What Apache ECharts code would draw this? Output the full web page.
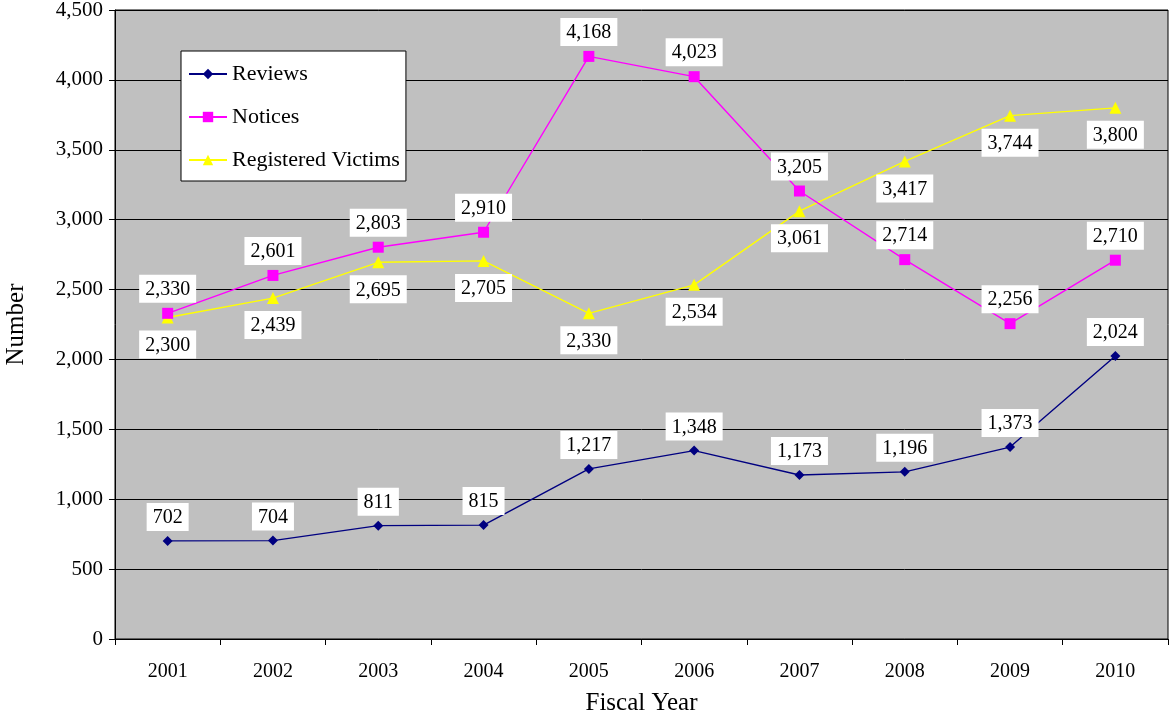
<!DOCTYPE html>
<html>
<head>
<meta charset="utf-8">
<script src="https://cdn.jsdelivr.net/npm/echarts@6/dist/echarts.min.js"></script>
<style>
  html, body { margin: 0; padding: 0; background: #fff; }
  #main { width: 1170px; height: 719px; }
</style>
</head>
<body>
<div id="main"></div>
<script>
// data
const years = ["2001", "2002", "2003", "2004", "2005", "2006", "2007", "2008", "2009", "2010"];
const reviews = [702, 704, 811, 815, 1217, 1348, 1173, 1196, 1373, 2024];
const notices = [2330, 2601, 2803, 2910, 4168, 4023, 3205, 2714, 2256, 2710];
const victims = [2300, 2439, 2695, 2705, 2330, 2534, 3061, 3417, 3744, 3800];

const font = "'Liberation Serif', 'DejaVu Serif', serif";

function fmt(p) {
  return p.value.toLocaleString("en-US");
}

const labelBox = {
  show: true,
  formatter: fmt,
  backgroundColor: "#fff",
  padding: [5, 6, 3, 6],
  color: "#000",
  fontFamily: font,
  fontSize: 20,
  distance: 5
};

let myChart = echarts.init(document.getElementById("main"));
myChart.setOption({
  animation: false,
  textStyle: { fontFamily: font },
  grid: {
    left: 115, right: 2, top: 10, bottom: 80,
    outerBoundsMode: "none",
    containLabel: false,
    show: true,
    backgroundColor: "#c0c0c0",
    borderColor: "#000",
    borderWidth: 1
  },
  legend: {
    orient: "vertical",
    left: 181,
    top: 51,
    backgroundColor: "#fff",
    borderColor: "#000",
    borderWidth: 1,
    padding: [12, 6, 10, 7],
    itemGap: 21,
    itemWidth: 38,
    itemHeight: 13,
    itemStyle: { borderWidth: 0 },
    textStyle: { fontFamily: font, fontSize: 22, color: "#000" },
    data: ["Reviews", "Notices", "Registered Victims"]
  },
  xAxis: {
    type: "category",
    data: years,
    boundaryGap: true,
    name: "Fiscal Year",
    nameLocation: "middle",
    nameGap: 52,
    nameTextStyle: { fontFamily: font, fontSize: 25, color: "#000" },
    axisLine: { lineStyle: { color: "#000", width: 1 } },
    axisTick: { show: true, length: 6, lineStyle: { color: "#000" } },
    axisLabel: { color: "#000", fontFamily: font, fontSize: 20, margin: 23 }
  },
  yAxis: {
    type: "value",
    min: 0,
    max: 4500,
    interval: 500,
    name: "Number",
    nameLocation: "middle",
    nameGap: 86,
    nameTextStyle: { fontFamily: font, fontSize: 25, color: "#000" },
    axisLine: { show: true, lineStyle: { color: "#000", width: 1 } },
    axisTick: { show: true, length: 6, lineStyle: { color: "#000" } },
    axisLabel: {
      color: "#000", fontFamily: font, fontSize: 21, margin: 12,
      formatter: function (v) { return v.toLocaleString("en-US"); }
    },
    splitLine: { show: true, lineStyle: { color: "#000", width: 1 } }
  },
  series: [
    {
      name: "Reviews",
      type: "line",
      data: reviews,
      symbol: "diamond",
      symbolSize: 10,
      color: "#000080",
      lineStyle: { width: 1.4 },
      label: Object.assign({}, labelBox, { position: "top" }),
      z: 3
    },
    {
      name: "Notices",
      type: "line",
      data: notices,
      symbol: "rect",
      symbolSize: 11,
      color: "#ff00ff",
      lineStyle: { width: 1.4 },
      label: Object.assign({}, labelBox, { position: "top" }),
      z: 3
    },
    {
      name: "Registered Victims",
      type: "line",
      data: victims,
      symbol: "triangle",
      symbolSize: 12,
      color: "#ffff00",
      lineStyle: { width: 1.4 },
      label: Object.assign({}, labelBox, { position: "bottom", distance: 7 }),
      z: 2
    }
  ]
});
</script>
</body>
</html>
